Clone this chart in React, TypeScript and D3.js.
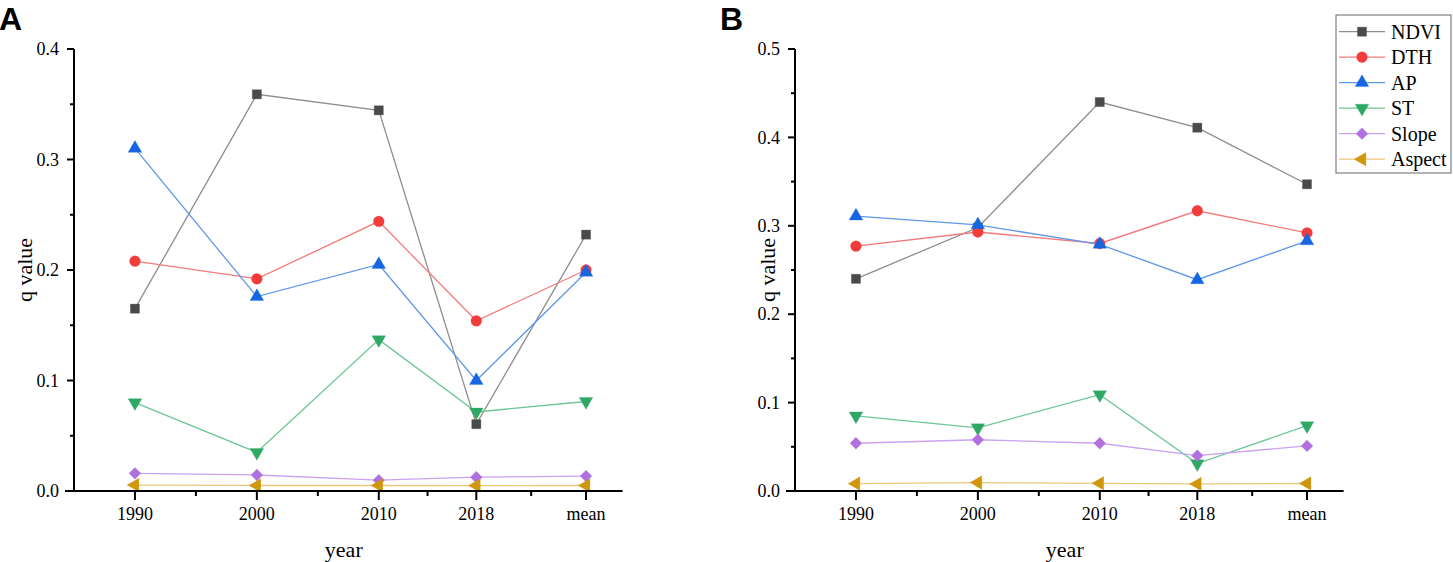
import React from "react";
import * as d3 from "d3";

const categories = ["1990", "2000", "2010", "2018", "mean"];
const catPos = [1990, 2000, 2010, 2018, 2027];
const seriesNames = ["NDVI", "DTH", "AP", "ST", "Slope", "Aspect"];
const markerColors = ["#4a4a4a", "#f23c3c", "#1566e0", "#2fa866", "#b070e0", "#d0960c"];
const lineColors = ["#8e8e8e", "#f47a7a", "#5f98e8", "#6cc795", "#cba2f0", "#e8c87c"];

const valuesA = [
  [0.165, 0.359, 0.3445, 0.0605, 0.232],
  [0.208, 0.192, 0.244, 0.154, 0.2],
  [0.31, 0.176, 0.205, 0.1, 0.198],
  [0.08, 0.035, 0.137, 0.0715, 0.081],
  [0.016, 0.0145, 0.0098, 0.0125, 0.0135],
  [0.0054, 0.005, 0.005, 0.0049, 0.005],
];
const valuesB = [
  [0.24, 0.298, 0.44, 0.411, 0.347],
  [0.277, 0.293, 0.28, 0.317, 0.292],
  [0.311, 0.301, 0.279, 0.239, 0.283],
  [0.085, 0.0715, 0.109, 0.031, 0.074],
  [0.054, 0.058, 0.054, 0.04, 0.051],
  [0.0083, 0.0095, 0.0087, 0.008, 0.0085],
];
const ticksA = [0, 0.1, 0.2, 0.3, 0.4];
const ticksB = [0, 0.1, 0.2, 0.3, 0.4, 0.5];

const FONT = "'Liberation Serif', 'Times New Roman', serif";

function markerPath(i: number) {
  const types = [d3.symbolSquare, d3.symbolCircle, d3.symbolTriangle, d3.symbolTriangle, d3.symbolSquare, d3.symbolTriangle];
  const sizes = [84, 92, 80, 80, 70, 80];
  return d3.symbol().type(types[i]).size(sizes[i])() as string;
}
const markerRot = [0, 0, 0, 180, 45, -90];

function Marker({ i, x, y }: { i: number; x: number; y: number }) {
  return (
    <path
      d={markerPath(i)}
      transform={`translate(${x},${y}) rotate(${markerRot[i]})`}
      fill={markerColors[i]}
      stroke={markerColors[i]}
      strokeWidth={0.6}
      strokeOpacity={0.5}
    />
  );
}

function Panel({
  x0,
  x1,
  yMax,
  ticks,
  values,
  letter,
  titleX,
}: {
  x0: number;
  x1: number;
  yMax: number;
  ticks: number[];
  values: number[][];
  letter: string;
  titleX: number;
}) {
  const top = 49;
  const bottom = 491;
  const x = d3.scaleLinear().domain([1985, 2030]).range([x0, x1]);
  const y = d3.scaleLinear().domain([0, yMax]).range([bottom, top]);
  const minorY: number[] = [];
  for (let k = 0; k < ticks.length - 1; k++) minorY.push((ticks[k] + ticks[k + 1]) / 2);
  const minorX: number[] = [];
  for (let k = 0; k < catPos.length - 1; k++) minorX.push((catPos[k] + catPos[k + 1]) / 2);
  const line = d3
    .line<number>()
    .x((_, k) => x(catPos[k]))
    .y((v) => y(v));
  const axisLeft = x(1985);
  return (
    <g>
      <text x={axisLeft - 75} y={30} fontFamily="'Liberation Sans', Arial, sans-serif" fontWeight="bold" fontSize={32}>
        {letter}
      </text>
      {values.map((vals, i) => (
        <g key={i}>
          <path d={line(vals) as string} fill="none" stroke={lineColors[i]} strokeWidth={1.3} />
          {vals.map((v, k) => (
            <Marker key={k} i={i} x={x(catPos[k])} y={y(v)} />
          ))}
        </g>
      ))}
      <line x1={axisLeft - 9} x2={x1} y1={bottom} y2={bottom} stroke="#000" strokeWidth={2} />
      <line x1={axisLeft} x2={axisLeft} y1={top} y2={bottom} stroke="#000" strokeWidth={2} />
      {ticks.map((t) => (
        <g key={t}>
          <line x1={axisLeft - 7} x2={axisLeft} y1={y(t)} y2={y(t)} stroke="#000" strokeWidth={2} />
          <text x={axisLeft - 15} y={y(t)} dy="0.34em" textAnchor="end" fontFamily={FONT} fontSize={18}>
            {t.toFixed(1)}
          </text>
        </g>
      ))}
      {minorY.map((t) => (
        <line key={t} x1={axisLeft - 4} x2={axisLeft} y1={y(t)} y2={y(t)} stroke="#000" strokeWidth={2} />
      ))}
      {catPos.map((c, k) => (
        <g key={c}>
          <line x1={x(c)} x2={x(c)} y1={bottom} y2={bottom + 9} stroke="#000" strokeWidth={2} />
          <text x={x(c)} y={bottom + 29} textAnchor="middle" fontFamily={FONT} fontSize={18}>
            {categories[k]}
          </text>
        </g>
      ))}
      {minorX.map((c) => (
        <line key={c} x1={x(c)} x2={x(c)} y1={bottom} y2={bottom + 5} stroke="#000" strokeWidth={2} />
      ))}
      <text x={(axisLeft - 9 + x1) / 2} y={557} textAnchor="middle" fontFamily={FONT} fontSize={22}>
        year
      </text>
      <text
        transform={`translate(${titleX},${(top + bottom) / 2}) rotate(-90)`}
        textAnchor="middle"
        fontFamily={FONT}
        fontSize={22}
      >
        q value
      </text>
    </g>
  );
}

function Legend() {
  const lx = 1336;
  const ly = 15;
  const rowY = (k: number) => 31.7 + k * 25.5;
  return (
    <g>
      <rect x={lx} y={ly} width={115} height={158} fill="#fff" stroke="#666" strokeWidth={1} />
      {seriesNames.map((n, i) => (
        <g key={n}>
          <line x1={1339} x2={1385} y1={rowY(i)} y2={rowY(i)} stroke={lineColors[i]} strokeWidth={1.3} />
          <Marker i={i} x={1362} y={rowY(i)} />
          <text x={1391} y={rowY(i)} dy="0.34em" fontFamily={FONT} fontSize={20}>
            {n}
          </text>
        </g>
      ))}
    </g>
  );
}

export default function App() {
  return (
    <svg width={1453} height={562} style={{ position: "absolute", left: 0, top: 0, background: "#fff" }}>
      <rect width={1453} height={562} fill="#fff" />
      <Panel x0={74} x1={622.6} yMax={0.4} ticks={ticksA} values={valuesA} letter="A" titleX={32} />
      <Panel x0={795} x1={1343.6} yMax={0.5} ticks={ticksB} values={valuesB} letter="B" titleX={775} />
      <Legend />
    </svg>
  );
}
